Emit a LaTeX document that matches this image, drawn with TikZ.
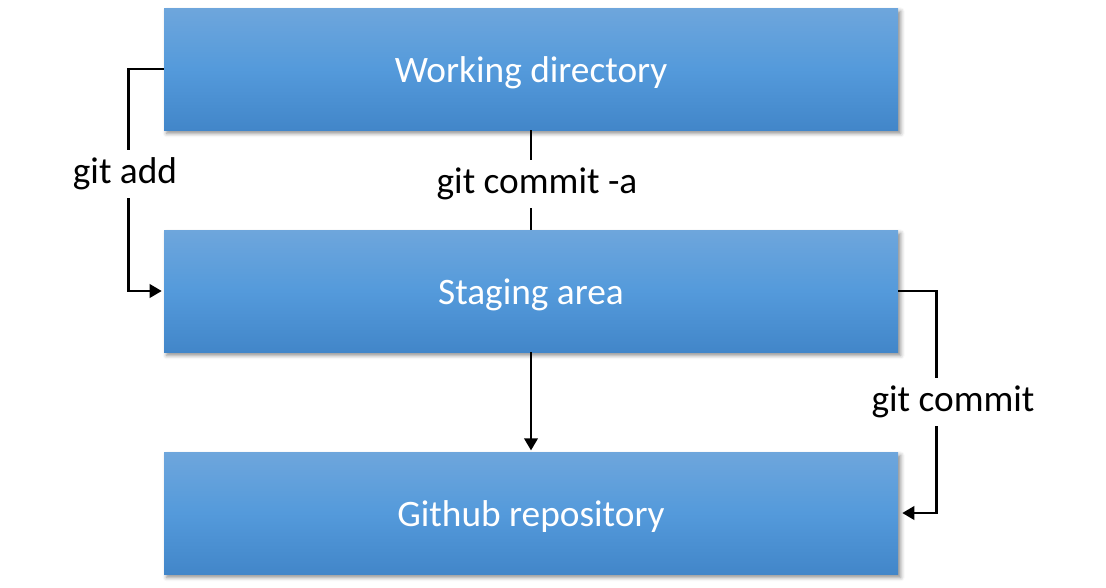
\documentclass[tikz,border=0pt]{standalone}
\usepackage{fontspec}
\setmainfont{Carlito}
\usetikzlibrary{arrows.meta,shadows.blur}
\definecolor{boxtop}{RGB}{110,166,220}
\definecolor{boxmid}{RGB}{84,154,219}
\definecolor{boxbot}{RGB}{66,134,201}
\begin{document}
\begin{tikzpicture}[x=0.75pt,y=-0.75pt,
  box/.style={rectangle, minimum width=550.5pt, minimum height=91.5pt, inner sep=0pt,
    text height=21pt, text depth=1.2pt,
    top color=boxtop, bottom color=boxbot, middle color=boxmid,
    text=white, font=\fontsize{28}{34}\selectfont,
    blur shadow={shadow xshift=2pt, shadow yshift=-2.5pt, shadow blur radius=3pt, shadow opacity=45}},
  lbl/.style={fill=white, inner xsep=2pt, inner ysep=6pt, font=\fontsize{28}{34}\selectfont},
  conn/.style={line width=1.9pt, draw=black},
  tip/.style={-{Triangle[length=9pt,width=10pt]}}]
\useasboundingbox (0,0) rectangle (1106,587);
\node[box] (wd) at (531,69) {Working directory};
\node[box] (sa) at (531,291) {Staging area};
\node[box] (gh) at (531,513) {Github repository};
% git add
\draw[conn,tip,shorten >=1.5pt] (wd.west) -- ++(-35,0) |- (sa.west);
\node[lbl] (ladd) at (125,174) {git add};
% git commit -a
\draw[conn] (wd.south) -- (sa.north);
\node[lbl] (lca) at (537,184) {git commit -a};
% staging to github
\draw[conn,tip,shorten >=1pt] (sa.south) -- (gh.north);
% git commit
\draw[conn,tip,shorten >=3pt] (sa.east) -- ++(38,0) |- (gh.east);
\node[lbl] (lc) at (953,402) {git commit};
\end{tikzpicture}
\end{document}
